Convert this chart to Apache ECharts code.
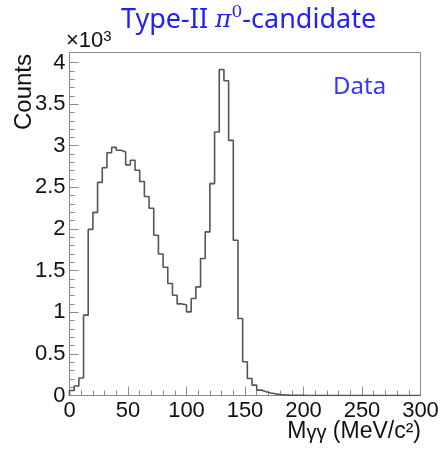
<!DOCTYPE html>
<html>
<head>
<meta charset="utf-8">
<script src="https://cdn.jsdelivr.net/npm/echarts@6/dist/echarts.min.js"></script>
<style>
  html, body { margin: 0; padding: 0; background: #fff; }
  #chart { width: 442px; height: 453px; }
</style>
</head>
<body>
<div id="chart"></div>
<script>
// M_gg histogram, 4 MeV bins from 0 to 300
const binWidth = 4
const counts = [
  60, 115, 210, 965, 1995, 2200, 2560, 2735, 2915, 2980,
  2945, 2925, 2770, 2825, 2705, 2570, 2390, 2250, 1925, 1700,
  1540, 1345, 1205, 1100, 1090, 1005, 1165, 1305, 1645, 1965,
  2545, 3165, 3915, 3780, 3065, 1865, 925, 405, 205, 125,
  65, 45, 30, 20, 12, 8, 5, 3, 2, 1,
  0, 0, 0, 0, 0, 0, 0, 0, 0, 0,
  0, 0, 0, 0, 0, 0, 0, 0, 0, 0,
  0, 0, 0, 0, 0
]
const yMajorTicks = [0, 500, 1000, 1500, 2000, 2500, 3000, 3500, 4000]
const yMinorTicks = []
for (let v = 100; v < 4100; v += 100) if (v % 500 !== 0) yMinorTicks.push(v)

const LABEL_FONT = "'Liberation Sans', Arial, sans-serif"
const TITLE_FONT = "'Noto Sans', sans-serif"
const AXIS_GRAY = '#8a8a8a'

// outline points: start on the axis, then left edge of each bin, close at 300
const outline = [[0, 0]]
counts.forEach((c, i) => outline.push([i * binWidth, c]))
outline.push([counts.length * binWidth, counts[counts.length - 1]])

const chart = echarts.init(document.getElementById('chart'))
chart.setOption({
  animation: false,
  grid: {
    left: 69.5, right: 21.5, top: 52.5, bottom: 57.5,
    show: true, borderColor: AXIS_GRAY, borderWidth: 1,
    outerBoundsMode: 'none'
  },
  title: {
    text: '{a|Type-II }{p|π}{s|0}{a|-candidate}',
    left: 116, top: -1,
    textStyle: {
      fontWeight: 'normal',
      rich: {
        a: { fontFamily: TITLE_FONT, fontWeight: 'normal', fontSize: 27, color: '#1f1fff', lineHeight: 32 },
        p: { fontFamily: "'DejaVu Serif', serif", fontWeight: 'normal', fontStyle: 'italic', fontSize: 25, color: '#1f1fff', lineHeight: 32 },
        s: { fontFamily: "'DejaVu Serif', serif", fontWeight: 'normal', fontSize: 17, color: '#1f1fff', verticalAlign: 'top', lineHeight: 22 }
      }
    }
  },
  xAxis: {
    type: 'value',
    min: 0, max: 300, interval: 50,
    axisLine: { show: true, lineStyle: { color: AXIS_GRAY } },
    axisTick: { show: true, inside: true, length: 9, lineStyle: { color: AXIS_GRAY } },
    minorTick: { show: true, splitNumber: 5, length: 5, lineStyle: { color: AXIS_GRAY } },
    axisLabel: { fontFamily: LABEL_FONT, fontSize: 22, color: '#111', margin: 4 },
    splitLine: { show: false }
  },
  yAxis: [
    {
      type: 'value', position: 'left',
      min: 0, max: 4120,
      axisLine: { show: true, lineStyle: { color: AXIS_GRAY } },
      axisTick: { show: true, inside: true, length: 9, customValues: yMajorTicks, lineStyle: { color: AXIS_GRAY } },
      axisLabel: {
        customValues: yMajorTicks,
        fontFamily: LABEL_FONT, fontSize: 22, color: '#111', margin: 4,
        formatter: v => String(v / 1000)
      },
      splitLine: { show: false }
    },
    {
      type: 'value', position: 'left',
      min: 0, max: 4120,
      axisLine: { show: false },
      axisTick: { show: true, inside: true, length: 5, customValues: yMinorTicks, lineStyle: { color: AXIS_GRAY } },
      axisLabel: { show: false },
      splitLine: { show: false }
    }
  ],
  graphic: [
    {
      type: 'text', left: 66, top: 29,
      style: {
        text: '{m|×10}{e|3}',
        rich: {
          m: { fontFamily: LABEL_FONT, fontSize: 22, fill: '#111', lineHeight: 24 },
          e: { fontFamily: LABEL_FONT, fontSize: 15, fill: '#111', verticalAlign: 'top', lineHeight: 18 }
        }
      }
    },
    {
      type: 'text', x: 24, y: 92, rotation: Math.PI / 2,
      style: {
        text: 'Counts', fontFamily: LABEL_FONT, fontSize: 24, fill: '#111',
        align: 'center', verticalAlign: 'middle'
      }
    },
    {
      type: 'text', right: 21, top: 420,
      style: {
        text: '{t|M}{g|γγ}{t| (MeV/c²)}',
        rich: {
          t: { fontFamily: LABEL_FONT, fontSize: 23, fill: '#111' },
          g: { fontFamily: LABEL_FONT, fontSize: 20, fill: '#111', padding: [4, 0, 0, 0] }
        }
      }
    },
    {
      type: 'text', left: 333, top: 75,
      style: { text: 'Data', fontFamily: TITLE_FONT, fontSize: 24, fill: '#3636ff' }
    }
  ],
  series: [
    {
      name: 'Data',
      type: 'line',
      step: 'end',
      symbol: 'none',
      data: outline,
      lineStyle: { color: '#555', width: 1.6 }
    }
  ]
})
</script>
</body>
</html>
